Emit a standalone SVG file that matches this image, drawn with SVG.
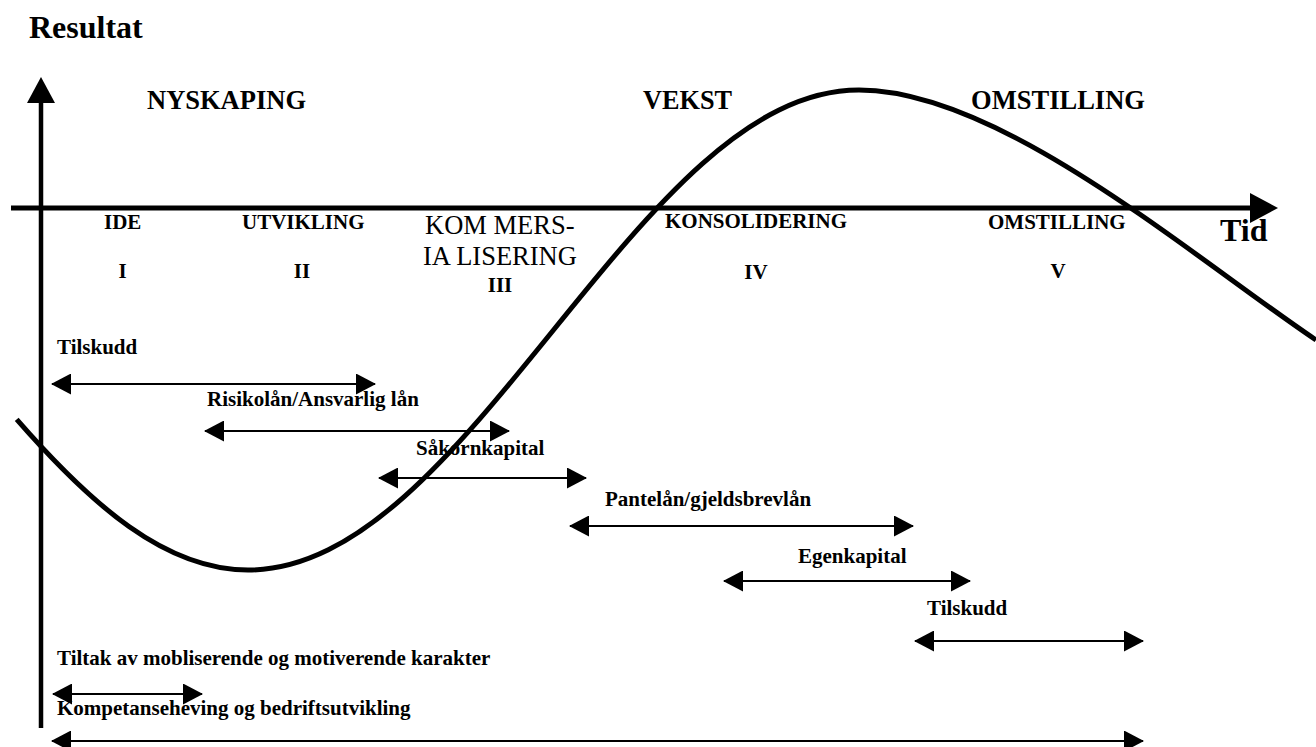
<svg xmlns="http://www.w3.org/2000/svg" width="1316" height="747" viewBox="0 0 1316 747">
  <style>
    text { font-family: "Liberation Serif", "Times New Roman", serif; fill: #000; }
    .b { font-weight: bold; }
    .big { font-size: 32px; font-weight: bold; }
    .phase { font-size: 27px; font-weight: bold; }
    .stage { font-size: 21px; font-weight: bold; }
    .reg { font-size: 26.5px; font-weight: normal; }
    .lbl { font-size: 21px; font-weight: bold; }
    .axis { stroke: #000; stroke-width: 4.5; fill: none; }
    .dbl { stroke: #000; stroke-width: 2; fill: none; marker-start: url(#ah); marker-end: url(#ah); }
    .curve { stroke: #000; stroke-width: 5; fill: none; }
  </style>
  <defs>
    <marker id="ah" markerUnits="userSpaceOnUse" markerWidth="20" markerHeight="21" refX="19" refY="10.5" orient="auto-start-reverse" viewBox="0 0 20 21">
      <path d="M0,0 L20,10.5 L0,21 z" fill="#000"/>
    </marker>
  </defs>
  <rect width="1316" height="747" fill="#fff"/>

  <g id="axes">
    <line class="axis" x1="41" y1="100" x2="41" y2="728"/>
    <polygon points="27,103 41,77 55,103" fill="#000"/>
    <line class="axis" x1="11" y1="208" x2="1252" y2="208" style="stroke-width:5"/>
    <polygon points="1250,193 1278,208 1250,223" fill="#000"/>
    <text class="big" x="29" y="38">Resultat</text>
    <text class="big" x="1220" y="241">Tid</text>
  </g>

  <g id="phases">
    <text id="phase-nyskaping" class="phase" x="147" y="109" textLength="159" lengthAdjust="spacingAndGlyphs">NYSKAPING</text>
    <text id="phase-vekst" class="phase" x="643" y="109" textLength="89" lengthAdjust="spacingAndGlyphs">VEKST</text>
    <text id="phase-omstilling" class="phase" x="971" y="109" textLength="174" lengthAdjust="spacingAndGlyphs">OMSTILLING</text>
  </g>

  <g id="stages">
    <g id="stage-1">
      <text class="stage" x="104" y="229">IDE</text>
      <text class="stage" x="122.5" y="278" text-anchor="middle">I</text>
    </g>
    <g id="stage-2">
      <text class="stage" x="242" y="229">UTVIKLING</text>
      <text class="stage" x="302" y="278" text-anchor="middle">II</text>
    </g>
    <g id="stage-3">
      <text class="reg" x="425" y="234">KOM MERS-</text>
      <text class="reg" x="423" y="265">IA LISERING</text>
      <text class="stage" x="500" y="292" text-anchor="middle">III</text>
    </g>
    <g id="stage-4">
      <text class="stage" x="665" y="228">KONSOLIDERING</text>
      <text class="stage" x="756" y="279" text-anchor="middle">IV</text>
    </g>
    <g id="stage-5">
      <text class="stage" x="988" y="229">OMSTILLING</text>
      <text class="stage" x="1058" y="278" text-anchor="middle">V</text>
    </g>
  </g>

  <g id="financing">
    <text id="f-tilskudd1" class="lbl" x="57" y="354">Tilskudd</text>
    <text id="f-risikolan" class="lbl" x="207" y="406">Risikolån/Ansvarlig lån</text>
    <text id="f-sakorn" class="lbl" x="416" y="455">Såkornkapital</text>
    <text id="f-pantelan" class="lbl" x="605" y="506">Pantelån/gjeldsbrevlån</text>
    <text id="f-egenkapital" class="lbl" x="798" y="563">Egenkapital</text>
    <text id="f-tilskudd2" class="lbl" x="927" y="615">Tilskudd</text>
    <text id="f-tiltak" class="lbl" x="57" y="665">Tiltak av mobliserende og motiverende karakter</text>
    <text id="f-kompetanse" class="lbl" x="57" y="715">Kompetanseheving og bedriftsutvikling</text>
  </g>

  <g id="connectors">
    <line class="dbl" x1="52" y1="384" x2="375" y2="384"/>
    <line class="dbl" x1="205" y1="431" x2="509" y2="431"/>
    <line class="dbl" x1="379" y1="478" x2="586" y2="478"/>
    <line class="dbl" x1="570" y1="526" x2="913" y2="526"/>
    <line class="dbl" x1="724" y1="581" x2="970" y2="581"/>
    <line class="dbl" x1="915" y1="641" x2="1143" y2="641"/>
    <line class="dbl" x1="53" y1="694" x2="202" y2="694"/>
    <line class="dbl" x1="52" y1="741" x2="1143" y2="741"/>
  </g>

  <g id="curve">
    <path class="curve" d="M16.7,419.4 C90.7,504.2 165,570 248,570 C358.6,570 453.9,453 553.5,330 C653.1,207 748.4,90 859,90 C1000,90 1190,255 1316,340"/>
  </g>
</svg>
